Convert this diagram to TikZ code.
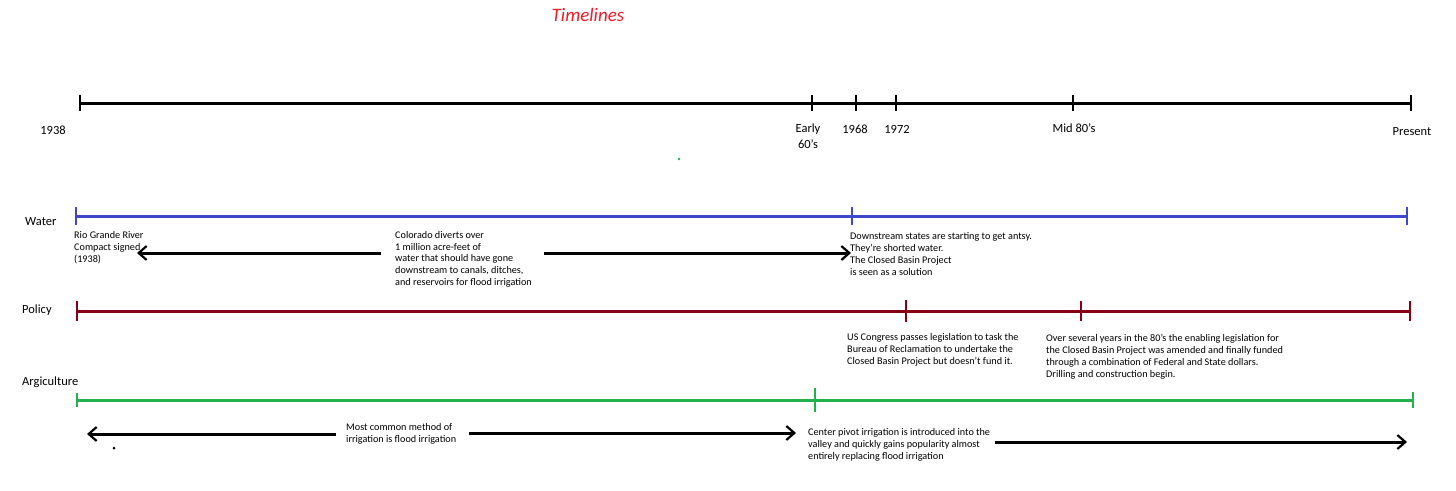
\documentclass[tikz,border=0pt]{standalone}
\usepackage{fontspec}
\setmainfont{Carlito}
\usepackage{xcolor}
\usepackage{tikz}
\usetikzlibrary{arrows.meta}
\usetikzlibrary{calc}

\definecolor{wblue}{RGB}{63,72,204}
\definecolor{pred}{RGB}{136,0,21}
\definecolor{agreen}{RGB}{34,177,76}
\definecolor{tred}{RGB}{237,28,36}

\begin{document}
\begin{tikzpicture}[x=1pt,y=-1pt]%%timelines

                \tikzstyle{lbl}  = [font=\fontsize{12.5}{16.5}\selectfont, inner sep=0pt, align=center, anchor=base]
                \tikzstyle{row}  = [font=\fontsize{12.5}{16}\selectfont, inner sep=0pt, anchor=base west]
                \tikzstyle{note} = [font=\fontsize{10.2}{11.8}\selectfont, inner sep=0pt, align=left, anchor=base west]
                \tikzstyle{tick} = [line width=2pt]
                \tikzstyle{arr}  = [line width=3pt, -{Straight Barb[length=8pt,width=14pt,line width=2.2pt]}]

                \useasboundingbox (0,0) rectangle (1456,490);

                \node [font=\fontsize{19}{20}\selectfont\itshape, text=tred](title) at (588,15) {Timelines};

                %% years (base of a multi-line node = its last line)
                \foreach \x/\n/\h in {80/a/8,812/b/8,856/c/8,896/d/8,1073/e/8,1411/f/8}{
                        \coordinate (y\n) at (\x,103);
                        \draw [tick] ($(y\n)+(0,-\h)$) -- ($(y\n)+(0,\h)$);
                }
                \draw [line width=3pt] (ya) -- (yf);
                \node [lbl](l1938) at (53,134) {1938};
                \node [lbl](learly) at (808,148.5) {Early\\60's};
                \node [lbl](l1968) at (855,133.5) {1968};
                \node [lbl](l1972) at (897,133) {1972};
                \node [lbl](lmid) at (1074,132) {Mid 80's};
                \node [lbl](lnow) at (1412,135) {Present};
                \fill [agreen] (679,159) circle (1.3pt);

                %% water
                \node [row](water) at (25,225) {Water};
                \foreach \x/\n/\h in {76/a/9,852/b/9,1407/c/9}{
                        \coordinate (w\n) at (\x,216);
                        \draw [tick, wblue] ($(w\n)+(0,-\h)$) -- ($(w\n)+(0,\h)$);
                }
                \draw [line width=3pt, wblue] (wa) -- (wc);
                \node [note](rio) at (74,262) {Rio Grande River\\Compact signed\\(1938)};
                \node [note](colo) at (395,285.5) {Colorado diverts over\\1 million acre-feet of\\water that should have gone\\downstream to canals, ditches,\\and reservoirs for flood irrigation};
                \node [note](down) at (850,275) {Downstream states are starting to get antsy.\\They're shorted water.\\The Closed Basin Project\\is seen as a solution};
                \coordinate (wl1) at (381,253);
                \coordinate (wl2) at (137,253);
                \coordinate (wr1) at (544,253);
                \coordinate (wr2) at (851,253);
                \draw [arr] (wl1) -- (wl2);
                \draw [arr] (wr1) -- (wr2);

                %% policy
                \node [row](policy) at (22,313.5) {Policy};
                \foreach \x/\n/\h in {77/a/10,906/b/11,1081/c/10,1410/d/10}{
                        \coordinate (p\n) at (\x,311);
                        \draw [tick, pred] ($(p\n)+(0,-\h)$) -- ($(p\n)+(0,\h)$);
                }
                \draw [line width=3pt, pred] (pa) -- (pd);
                \node [note](cong) at (847,364) {US Congress passes legislation to task the\\Bureau of Reclamation to undertake the\\Closed Basin Project but doesn't fund it.};
                \node [note](over) at (1046,377) {Over several years in the 80's the enabling legislation for\\the Closed Basin Project was amended and finally funded\\through a combination of Federal and State dollars.\\Drilling and construction begin.};

                %% agriculture
                \node [row](agri) at (22,385.5) {Argiculture};
                \foreach \x/\n/\h in {77/a/7,815/b/12,1413/c/8}{
                        \coordinate (g\n) at (\x,400);
                        \draw [tick, agreen] ($(g\n)+(0,-\h)$) -- ($(g\n)+(0,\h)$);
                }
                \draw [line width=3pt, agreen] (ga) -- (gc);
                \node [note](most) at (346,442) {Most common method of\\irrigation is flood irrigation};
                \node [note](cent) at (808,459) {Center pivot irrigation is introduced into the\\valley and quickly gains popularity almost\\entirely replacing flood irrigation};
                \coordinate (al1) at (336,434);
                \coordinate (al2) at (87,434);
                \coordinate (am1) at (469,433);
                \coordinate (am2) at (796,433);
                \coordinate (ar1) at (995,442);
                \coordinate (ar2) at (1407,442);
                \draw [arr] (al1) -- (al2);
                \draw [arr] (am1) -- (am2);
                \draw [arr] (ar1) -- (ar2);
                \fill (114,448) circle (1.5pt);
\end{tikzpicture}
\end{document}
